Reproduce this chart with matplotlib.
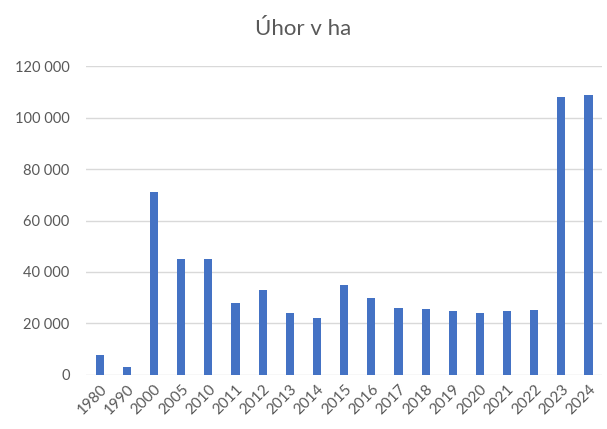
import matplotlib
matplotlib.use("Agg")
import matplotlib.pyplot as plt
from matplotlib.ticker import FuncFormatter

years = ["1980", "1990", "2000", "2005", "2010", "2011", "2012", "2013", "2014", "2015",
         "2016", "2017", "2018", "2019", "2020", "2021", "2022", "2023", "2024"]
values = [7700, 3000, 71000, 45000, 45000, 28000, 33000, 24000, 22000, 35000,
          30000, 26200, 25800, 24700, 23900, 24700, 25400, 108000, 108800]
yticks = [0, 20000, 40000, 60000, 80000, 100000, 120000]

plt.rcParams['font.family'] = ['Lato', 'DejaVu Sans']

fig = plt.figure(figsize=(6.07, 4.29), dpi=100)
ax = fig.add_axes([0.142, 0.126, 0.85, 0.72])
x = range(len(years))
ax.bar(x, values, width=0.3, color="#4472C4", zorder=3)
ax.set_xlim(-0.5, len(years) - 0.5)
ax.set_ylim(0, 120000)
ax.set_yticks(yticks)
ax.yaxis.set_major_formatter(FuncFormatter(lambda v, p: f"{int(v):,}".replace(",", " ")))
ax.set_xticks(list(x))
ax.set_xticklabels(years, rotation=45, ha="right", rotation_mode="anchor")
ax.grid(axis="y", color="#d9d9d9", linewidth=1, zorder=0)
for s in ax.spines.values():
    s.set_visible(False)
ax.tick_params(axis="both", length=0, colors="#595959", labelsize=10.5)
ax.tick_params(axis="x", labelsize=11, pad=5)
ax.tick_params(axis="y", pad=12)
fig.suptitle("Úhor v ha", x=0.5, y=0.955, fontsize=16, color="#595959")
fig.savefig("out.png", dpi=100)
